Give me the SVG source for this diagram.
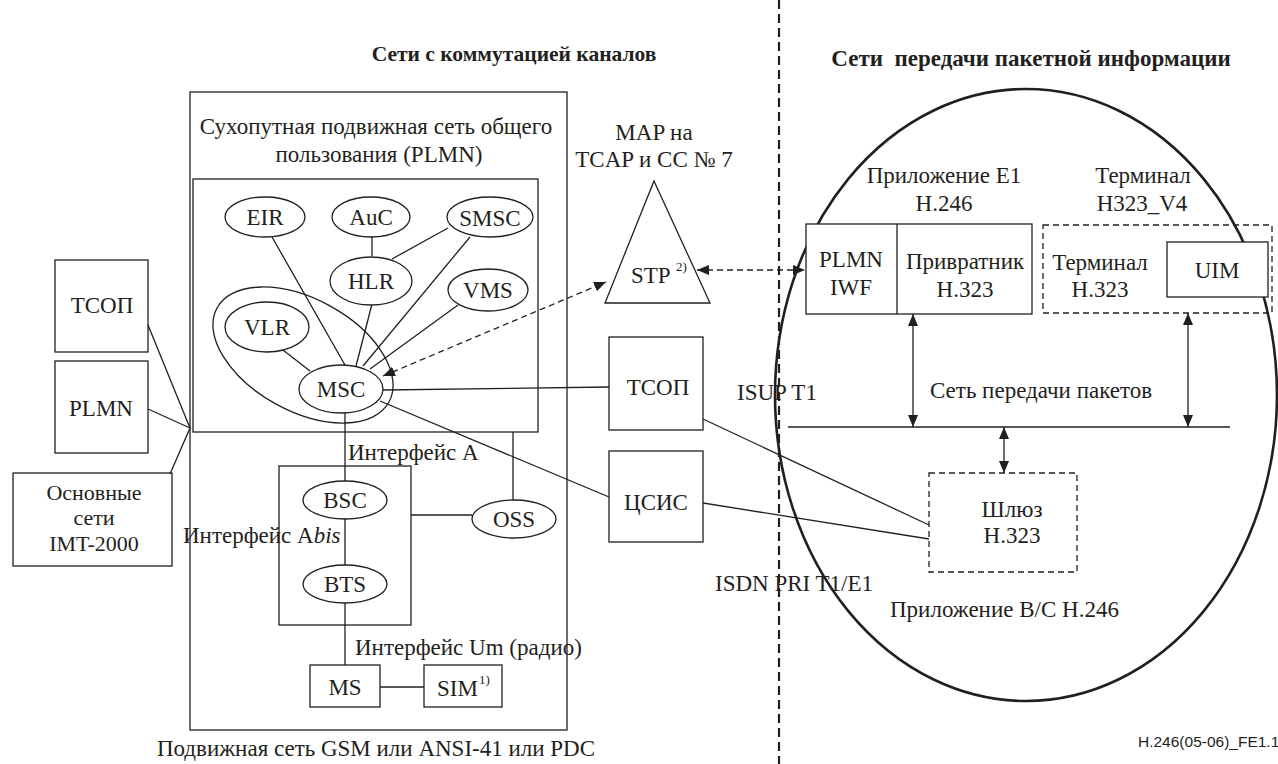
<svg xmlns="http://www.w3.org/2000/svg" width="1278" height="764" viewBox="0 0 1278 764">
  <style>
    text { font-family: "Liberation Serif", "Times New Roman", serif; font-size: 23px; fill: #231f20; }
    .title { font-weight: bold; font-size: 21.5px; }
    .title2 { font-weight: bold; font-size: 23px; }
    .mid { text-anchor: middle; }
    .sup { font-size: 13px; }
    .small { font-size: 22px; }
    .code { font-family: "Liberation Sans", Arial, sans-serif; font-size: 15.5px; }
    .box { fill: none; stroke: #231f20; stroke-width: 1.3; }
    .dbox { fill: none; stroke: #231f20; stroke-width: 1.3; stroke-dasharray: 6 4; }
    .ln { fill: none; stroke: #231f20; stroke-width: 1.3; }
    .dl { fill: none; stroke: #231f20; stroke-width: 1.3; stroke-dasharray: 6 4; }
    .node { fill: #fff; stroke: #231f20; stroke-width: 1.3; }
  </style>
  <defs>
    <marker id="ah" viewBox="0 0 12 10" refX="12" refY="5" markerWidth="12" markerHeight="10" markerUnits="userSpaceOnUse" orient="auto-start-reverse">
      <path d="M0,0 L12,5 L0,10 Z" fill="#231f20"/>
    </marker>
  </defs>
  <rect width="1278" height="764" fill="#fff"/>

  <!-- section titles -->
  <text class="title mid" x="514" y="61">Сети с коммутацией каналов</text>
  <text class="title2 mid" x="1031" y="66" xml:space="preserve">Сети  передачи пакетной информации</text>

  <!-- boundary between circuit and packet domains -->
  <line x1="779" y1="0" x2="779" y2="764" stroke="#231f20" stroke-width="2.2" stroke-dasharray="9 5"/>

  <!-- packet network area -->
  <ellipse id="packet-area" cx="1026" cy="395" rx="251" ry="306" fill="none" stroke="#231f20" stroke-width="2.6"/>

  <!-- mobile network frame -->
  <g id="mobile-network">
    <rect class="box" x="190" y="92" width="377" height="638"/>
    <text class="mid" x="376" y="756">Подвижная сеть GSM или ANSI-41 или PDC</text>
  </g>
  <g id="plmn">
    <rect class="box" x="193" y="179" width="345" height="253"/>
    <text class="mid" x="376" y="134">Сухопутная подвижная сеть общего</text>
    <text class="mid" x="379" y="162">пользования (PLMN)</text>
  </g>

  <!-- connectors -->
  <g id="connectors">
    <!-- core elements to MSC -->
    <line class="ln" x1="272" y1="237" x2="345" y2="365"/>
    <line class="ln" x1="372" y1="237" x2="372" y2="256"/>
    <line class="ln" x1="448" y1="228" x2="392" y2="259"/>
    <line class="ln" x1="470" y1="237" x2="363" y2="366"/>
    <line class="ln" x1="372" y1="304" x2="356" y2="366"/>
    <line class="ln" x1="458" y1="305" x2="370" y2="369"/>
    <line class="ln" x1="283" y1="350" x2="310" y2="371"/>
    <!-- MSC down to BSC -->
    <line class="ln" x1="345" y1="413" x2="345" y2="481"/>
    <!-- BSC to BTS, BTS to MS -->
    <line class="ln" x1="345" y1="519" x2="345" y2="565"/>
    <line class="ln" x1="345" y1="603" x2="345" y2="665"/>
    <!-- MS to SIM -->
    <line class="ln" x1="380" y1="687" x2="424" y2="687"/>
    <!-- base station subsystem to OSS, OSS up to core -->
    <line class="ln" x1="411" y1="515" x2="472" y2="515"/>
    <line class="ln" x1="513" y1="432" x2="513" y2="500"/>
    <!-- MSC to fixed networks -->
    <line class="ln" x1="383" y1="390" x2="609" y2="387"/>
    <line class="ln" x1="380" y1="401" x2="609" y2="497"/>
    <!-- fixed networks to gateway -->
    <line class="ln" x1="703" y1="419" x2="929" y2="525"/>
    <line class="ln" x1="703" y1="503" x2="929" y2="539"/>
    <!-- external networks to PLMN -->
    <line class="ln" x1="148" y1="325" x2="190" y2="428"/>
    <line class="ln" x1="148" y1="409" x2="190" y2="428"/>
    <line class="ln" x1="170" y1="474" x2="190" y2="428"/>
    <!-- signalling links -->
    <line class="dl" x1="383" y1="376" x2="606" y2="282" marker-start="url(#ah)" marker-end="url(#ah)"/>
    <line class="dl" x1="697" y1="270" x2="805" y2="270" marker-start="url(#ah)" marker-end="url(#ah)"/>
    <!-- packet network bus and attachments -->
    <line class="ln" x1="788" y1="427" x2="1230" y2="427"/>
    <line class="ln" x1="913" y1="314" x2="913" y2="427" marker-start="url(#ah)" marker-end="url(#ah)"/>
    <line class="ln" x1="1188" y1="313" x2="1188" y2="427" marker-start="url(#ah)" marker-end="url(#ah)"/>
    <line class="ln" x1="1004" y1="427" x2="1004" y2="473" marker-start="url(#ah)" marker-end="url(#ah)"/>
  </g>

  <!-- VLR/MSC grouping -->
  <ellipse id="vlr-msc-area" cx="303" cy="355" rx="98" ry="56" transform="rotate(28.7 303 355)" fill="none" stroke="#231f20" stroke-width="1.3"/>

  <g id="eir"><ellipse class="node" cx="265" cy="217" rx="40" ry="20"/><text class="mid" x="265" y="225">EIR</text></g>
  <g id="auc"><ellipse class="node" cx="371" cy="217" rx="39" ry="20"/><text class="mid" x="371" y="225">AuC</text></g>
  <g id="smsc"><ellipse class="node" cx="490" cy="217" rx="43" ry="20"/><text class="mid" x="490" y="226" font-size="25">SMSC</text></g>
  <g id="hlr"><ellipse class="node" cx="371" cy="281" rx="41" ry="24"/><text class="mid" x="371" y="289">HLR</text></g>
  <g id="vms"><ellipse class="node" cx="488" cy="290" rx="40" ry="21"/><text class="mid" x="488" y="298">VMS</text></g>
  <g id="vlr"><ellipse class="node" cx="267" cy="327" rx="42" ry="25"/><text class="mid" x="267" y="335">VLR</text></g>
  <g id="msc"><ellipse class="node" cx="341" cy="389" rx="42" ry="24"/><text class="mid" x="341" y="397">MSC</text></g>

  <g id="bss">
    <rect class="box" x="279" y="466" width="132" height="159"/>
  </g>
  <g id="bsc"><ellipse class="node" cx="345" cy="500" rx="42" ry="19"/><text class="mid" x="345" y="508">BSC</text></g>
  <g id="bts"><ellipse class="node" cx="345" cy="584" rx="42" ry="19"/><text class="mid" x="345" y="592">BTS</text></g>
  <g id="oss"><ellipse class="node" cx="514" cy="519" rx="42" ry="19"/><text class="mid" x="514" y="527">OSS</text></g>
  <g id="ms"><rect class="box" x="310" y="665" width="70" height="42"/><text class="mid" x="345" y="695">MS</text></g>
  <g id="sim"><rect class="box" x="424" y="665" width="78" height="42"/><text x="437" y="696">SIM</text><text class="sup" x="479" y="684">1)</text></g>

  <!-- interface labels -->
  <text x="348" y="460">Интерфейс A</text>
  <text x="183" y="543">Интерфейс A<tspan font-style="italic">bis</tspan></text>
  <text x="355" y="655">Интерфейс Um (радио)</text>

  <!-- external networks -->
  <g id="pstn-left"><rect class="box" x="55" y="260" width="93" height="92"/><text class="mid" x="102" y="313">ТСОП</text></g>
  <g id="plmn-ext"><rect class="box" x="55" y="361" width="93" height="92"/><text class="mid" x="101" y="416">PLMN</text></g>
  <g id="imt2000">
    <rect class="box" x="13" y="473" width="159" height="93"/>
    <text class="mid small" x="94" y="500">Основные</text>
    <text class="mid small" x="94" y="525">сети</text>
    <text class="mid small" x="94" y="551">IMT-2000</text>
  </g>

  <!-- signalling transfer point -->
  <g id="stp">
    <polygon class="node" points="654,181 710,303 605,303"/>
    <text x="631" y="283" font-size="25">STP</text><text class="sup" x="676" y="271">2)</text>
    <text class="mid" x="654" y="140">MAP на</text>
    <text class="mid" x="654" y="167">TCAP и CC № 7</text>
  </g>

  <g id="pstn"><rect class="box" x="609" y="337" width="94" height="93"/><text class="mid" x="658" y="395">ТСОП</text></g>
  <g id="isdn"><rect class="box" x="609" y="451" width="94" height="91"/><text class="mid" x="656" y="510">ЦСИС</text></g>

  <text x="737" y="400">ISUP T1</text>
  <text x="715" y="591">ISDN PRI T1/E1</text>

  <!-- packet side -->
  <g id="iwf-gatekeeper">
    <rect class="node" x="806" y="224" width="226" height="90"/>
    <line class="ln" x1="897" y1="224" x2="897" y2="314"/>
    <text class="mid" x="851" y="267">PLMN</text>
    <text class="mid" x="851" y="295">IWF</text>
    <text class="mid" x="965" y="269">Привратник</text>
    <text class="mid" x="965" y="297">H.323</text>
    <text class="mid" x="944" y="183">Приложение E1</text>
    <text class="mid" x="944" y="211">H.246</text>
  </g>
  <g id="terminal">
    <rect class="dbox" x="1043" y="225" width="229" height="88"/>
    <text class="mid" x="1100" y="270">Терминал</text>
    <text class="mid" x="1100" y="297">H.323</text>
    <text class="mid" x="1143" y="183">Терминал</text>
    <text class="mid" x="1142" y="211">H323_V4</text>
  </g>
  <g id="uim"><rect class="node" x="1167" y="242" width="101" height="55"/><text class="mid" x="1217" y="278">UIM</text></g>

  <text x="930" y="398">Сеть передачи пакетов</text>

  <g id="gateway">
    <rect class="dbox" x="929" y="473" width="148" height="99"/>
    <text class="mid" x="1012" y="517">Шлюз</text>
    <text class="mid" x="1012" y="543">H.323</text>
  </g>
  <text x="890" y="617">Приложение B/C H.246</text>

  <text class="code" x="1138" y="747">H.246(05-06)_FE1.1</text>
</svg>
